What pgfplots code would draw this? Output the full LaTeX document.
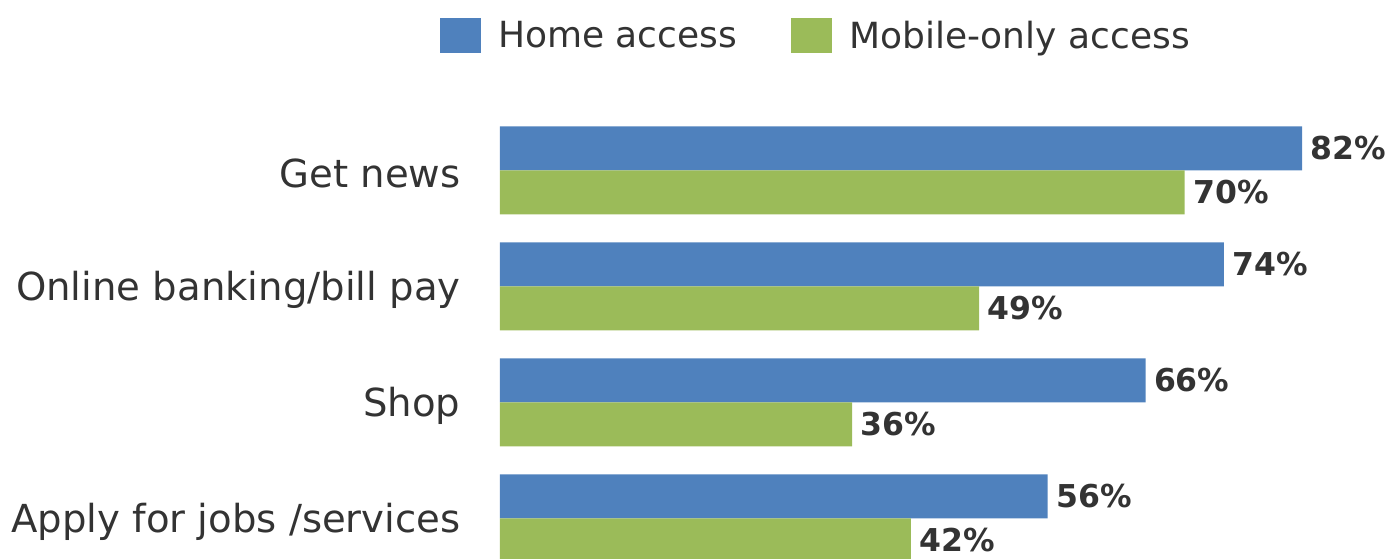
\documentclass[border=0pt]{standalone}
\usepackage{pgfplots}
\pgfplotsset{compat=1.18}
\usepackage{fontspec}
\setmainfont{DejaVu Sans}
\definecolor{homeblue}{HTML}{4F81BD}
\definecolor{mobgreen}{HTML}{9BBB59}
\definecolor{txt}{HTML}{333333}
\pgfplotsset{sqlegend/.style={legend image code/.code={\fill[##1] (0pt,-17.5pt) rectangle (41pt,17.5pt);}}}

\begin{document}
\begin{tikzpicture}
\useasboundingbox (0,0) rectangle (1395pt,559pt);
\begin{axis}[
    at={(500pt,0pt)}, anchor=south west,
    scale only axis, width=802pt, height=446.6pt,
    xbar, bar width=44pt,
    xmin=0, xmax=82, ymin=-0.35, ymax=3.5,
    clip=false,
    axis lines=left, axis line style={draw=none},
    xtick=\empty,
    ytick={0,1,2,3},
    yticklabels={Apply for jobs /services, Shop, Online banking/bill pay, Get news},
    major tick length=0pt,
    yticklabel style={font=\fontsize{38.6}{42}\selectfont, text=txt, xshift=-36pt, yshift=-3pt},
    /pgf/number format/assume math mode=true,
    nodes near coords={\pgfmathprintnumber{\pgfplotspointmeta}\%},
    point meta=x,
    every node near coord/.append style={font=\bfseries\fontsize{31.5}{34}\selectfont, text=txt, xshift=5pt},
    legend style={at={(0.394,1.173)}, anchor=center, draw=none, fill=none,
        legend columns=2, font=\fontsize{36}{40}\selectfont, text=txt,
        /tikz/every odd column/.append style={column sep=15pt},
        /tikz/every even column/.append style={column sep=52pt}},
]
\addplot[fill=homeblue, draw=none, bar shift=22pt, sqlegend]
    coordinates {(82,3) (74,2) (66,1) (56,0)};
\addlegendentry{Home access}
\addplot[fill=mobgreen, draw=none, bar shift=-22pt, sqlegend]
    coordinates {(70,3) (49,2) (36,1) (42,0)};
\addlegendentry{Mobile-only access}
\end{axis}
\end{tikzpicture}
\end{document}
